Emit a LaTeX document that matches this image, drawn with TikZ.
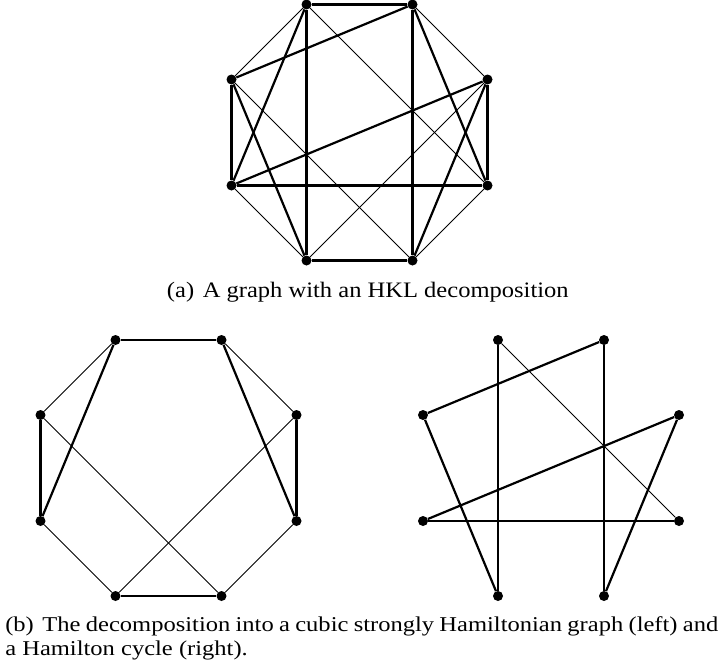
\documentclass[tikz,border=0pt]{standalone}
\usepackage{fontspec}
\setmainfont{Liberation Serif}
\usepackage{graphicx}
\newcommand{\octnodes}[3]{%
  \node[vtx] (#1t1) at (#2-53,#3-128) {};
  \node[vtx] (#1t2) at (#2+53,#3-128) {};
  \node[vtx] (#1l1) at (#2-128,#3-53) {};
  \node[vtx] (#1r1) at (#2+128,#3-53) {};
  \node[vtx] (#1l2) at (#2-128,#3+53) {};
  \node[vtx] (#1r2) at (#2+128,#3+53) {};
  \node[vtx] (#1b1) at (#2-53,#3+128) {};
  \node[vtx] (#1b2) at (#2+53,#3+128) {};}
\begin{document}
\begin{tikzpicture}[x=0.75pt,y=-0.75pt,
  vtx/.style={circle,fill=black,inner sep=0pt,minimum size=7.5pt},
  fineedge/.style={line width=0.55pt},
  boldedge/.style={line width=1.65pt},
  captext/.style={inner sep=0pt,anchor=base west,font=\fontsize{18.4pt}{22pt}\selectfont}]
\useasboundingbox (0,0) rectangle (721,671);
% (a) union graph
\octnodes{a}{359.5}{132.5}
\foreach \u/\v in {t1/l1,t2/r1,l1/b2,r1/b1,l2/b1,r2/b2,t1/r2}
  \draw[fineedge] (a\u) -- (a\v);
\foreach \u/\v in {t1/t2,t1/l2,l1/l2,t2/r2,r1/r2,b1/b2,t1/b1,t2/b2,t2/l1,l1/b1,r1/l2,l2/r2,r1/b2}
  \draw[boldedge] (a\u) -- (a\v);
% (b) left: cubic graph
\octnodes{c}{168.5}{468}
\foreach \u/\v in {t1/l1,t2/r1,l1/b2,r1/b1,l2/b1,r2/b2}
  \draw[fineedge] (c\u) -- (c\v);
\foreach \u/\v in {t1/t2,t1/l2,l1/l2,t2/r2,r1/r2,b1/b2}
  \draw[boldedge] (c\u) -- (c\v);
% (b) right: Hamilton cycle
\octnodes{h}{551}{468}
\draw[fineedge] (ht1) -- (hr2);
\foreach \u/\v in {t1/b1,t2/b2,t2/l1,l1/b1,r1/l2,l2/r2,r1/b2}
  \draw[boldedge] (h\u) -- (h\v);
% captions
\node[captext] (capa) at (166.7,297.5) {\scalebox{1}[0.9]{(a)\hspace{0.35em}A graph with an HKL decomposition}};
\node[captext] (capb1) at (5,631) {\scalebox{1}[0.86]{\makebox[534.75pt][s]{(b)\hspace{0.35em}The decomposition into a cubic strongly Hamiltonian graph (left) and}}};
\node[captext] (capb2) at (5,655) {\scalebox{1}[0.86]{a Hamilton cycle (right).}};
\end{tikzpicture}
\end{document}
